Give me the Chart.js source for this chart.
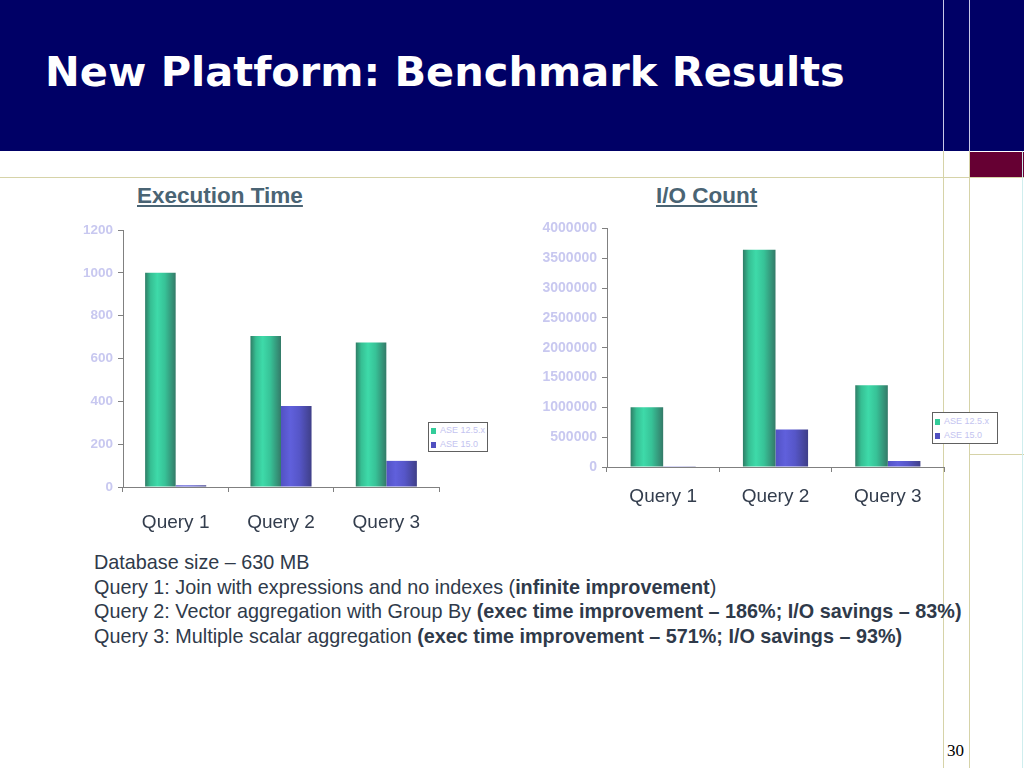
<!DOCTYPE html>
<html>
<head>
<meta charset="utf-8">
<script src="https://cdn.jsdelivr.net/npm/chart.js@4.4.1/dist/chart.umd.min.js"></script>
<style>
  html, body { margin: 0; padding: 0; }
  body { width: 1024px; height: 768px; position: relative; overflow: hidden; background: #fff;
         font-family: "Liberation Sans", Arial, sans-serif; }
  .abs { position: absolute; }
  #header { left: 0; top: 0; width: 1024px; height: 151px; background: #000066; }
  #title { left: 45px; top: 47px; color: #fff; font: bold 41.5px "DejaVu Sans", Verdana, sans-serif; white-space: nowrap; }
  .vline { width: 1px; background: #d6d3a8; }
  .hline { height: 1px; background: #d6d3a8; }
  .hdrline { width: 1px; background: #c8c8e8; }
  .ctitle { color: #4a6474; font-weight: bold; font-size: 22.5px; text-decoration: underline; white-space: nowrap; }
  .legend { background: #fff; border: 1px solid #606060; font-size: 9px; color: #c4c4f0; line-height: 14px; padding: 0 2px; white-space: nowrap; }
  .legend span.sw { display: inline-block; width: 5px; height: 6px; margin-right: 4px; vertical-align: -1px; }
  #notes { left: 94px; top: 550px; color: #2f3a4a; font-size: 19.8px; line-height: 24.5px; white-space: nowrap; }
  #page { left: 947px; top: 741px; font: 17px "Liberation Serif", "Times New Roman", serif; color: #000; }
</style>
</head>
<body>
<div id="header" class="abs"></div>
<div class="abs hdrline" style="left:943px;top:0;height:151px;"></div>
<div class="abs hdrline" style="left:969px;top:0;height:151px;"></div>
<div id="title" class="abs">New Platform: Benchmark Results</div>
<div class="abs" style="left:970px;top:152px;width:54px;height:25px;background:#660033;"></div>
<div class="abs hline" style="left:0;top:177px;width:1024px;"></div>
<div class="abs vline" style="left:943px;top:151px;height:617px;"></div>
<div class="abs vline" style="left:969px;top:151px;height:617px;"></div>
<div class="abs hline" style="left:969px;top:454px;width:55px;"></div>
<div class="abs" style="left:1022px;top:151px;width:1px;height:617px;background:#cfeeee;"></div>

<div class="abs ctitle" style="left:137px;top:183px;">Execution Time</div>
<div class="abs ctitle" style="left:656px;top:183px;">I/O Count</div>

<canvas id="c1" class="abs" style="left:50px;top:215px;"></canvas>
<canvas id="c2" class="abs" style="left:520px;top:215px;"></canvas>

<div class="abs legend" style="left:428px;top:422px;width:54px;height:28px;">
  <div><span class="sw" style="background:#33cc99"></span>ASE 12.5.x</div>
  <div><span class="sw" style="background:#5050c0"></span>ASE 15.0</div>
</div>
<div class="abs legend" style="left:932px;top:412px;width:60px;height:30px;">
  <div style="margin-top:1px"><span class="sw" style="background:#33cc99"></span>ASE 12.5.x</div>
  <div><span class="sw" style="background:#5050c0"></span>ASE 15.0</div>
</div>

<div id="notes" class="abs">
  Database size – 630 MB<br>
  Query 1: Join with expressions and no indexes (<b>infinite improvement</b>)<br>
  Query 2: Vector aggregation with Group By <b>(exec time improvement – 186%; I/O savings – 83%)</b><br>
  Query 3: Multiple scalar aggregation <b>(exec time improvement – 571%; I/O savings – 93%)</b>
</div>
<div id="page" class="abs">30</div>

<script>
// datos
const queries = ['Query 1', 'Query 2', 'Query 3'];
const series = ['ASE 12.5.x', 'ASE 15.0'];
const execOld = [1000, 705, 675];
const execNew = [8, 378, 122];
const ioOld = [1000000, 3640000, 1370000];
const ioNew = [12000, 630000, 100000];

// sombreado tipo cilindro para cada barra
const shades = {
  green: [[0, '#2f7d66'], [0.18, '#36bf93'], [0.4, '#3edaa9'], [0.65, '#37c297'], [1, '#347a68']],
  blue: [[0, '#5252c4'], [0.3, '#6060dc'], [0.6, '#5656c8'], [1, '#3f3f88']]
};

const shadePlugin = {
  id: 'shade',
  beforeDatasetDraw(chart, args) {
    const meta = args.meta;
    const stops = shades[meta._dataset.shade];
    meta.data.forEach(el => {
      const g = chart.ctx.createLinearGradient(el.x - el.width / 2, 0, el.x + el.width / 2, 0);
      stops.forEach(s => g.addColorStop(s[0], s[1]));
      el.options.backgroundColor = g;
    });
  }
};

function makeChart(id, w, h, pad, yWidth, xHeight, yMax, yStep, oldVals, newVals, xPad, yFont) {
  const cv = document.getElementById(id);
  cv.width = w; cv.height = h;
  cv.style.width = w + 'px'; cv.style.height = h + 'px';
  return new Chart(cv, {
    type: 'bar',
    data: {
      labels: queries,
      datasets: [
        { label: series[0], data: oldVals, shade: 'green', backgroundColor: () => '#33cc99' },
        { label: series[1], data: newVals, shade: 'blue', backgroundColor: () => '#5050c0' }
      ]
    },
    plugins: [shadePlugin],
    options: {
      responsive: false,
      animation: false,
      devicePixelRatio: 1,
      layout: { padding: pad },
      datasets: { bar: { categoryPercentage: 0.58, barPercentage: 1.0, borderWidth: 0 } },
      plugins: { legend: { display: false }, tooltip: { enabled: false } },
      scales: {
        x: {
          grid: { drawOnChartArea: false, tickLength: 5, tickColor: '#808080', offset: true },
          border: { color: '#808080' },
          ticks: { color: '#333d4d', font: { size: 19, family: 'Liberation Sans' }, padding: xPad, maxRotation: 0 },
          afterFit(s) { s.height = xHeight; }
        },
        y: {
          min: 0, max: yMax,
          grid: { drawOnChartArea: false, tickLength: 5, tickColor: '#808080' },
          border: { color: '#808080' },
          ticks: {
            stepSize: yStep, color: '#c8c8f0', padding: 5,
            font: { size: yFont, weight: 'bold', family: 'Liberation Sans' },
            callback: v => String(v)
          },
          afterFit(s) { s.width = yWidth; }
        }
      }
    }
  });
}

makeChart('c1', 410, 330, { top: 15, right: 21, left: 0, bottom: 0 }, 73, 58, 1200, 200, execOld, execNew, 19, 13.5);
makeChart('c2', 450, 300, { top: 13, right: 26, left: 0, bottom: 0 }, 87, 48, 4000000, 500000, ioOld, ioNew, 13, 14);
</script>
</body>
</html>
